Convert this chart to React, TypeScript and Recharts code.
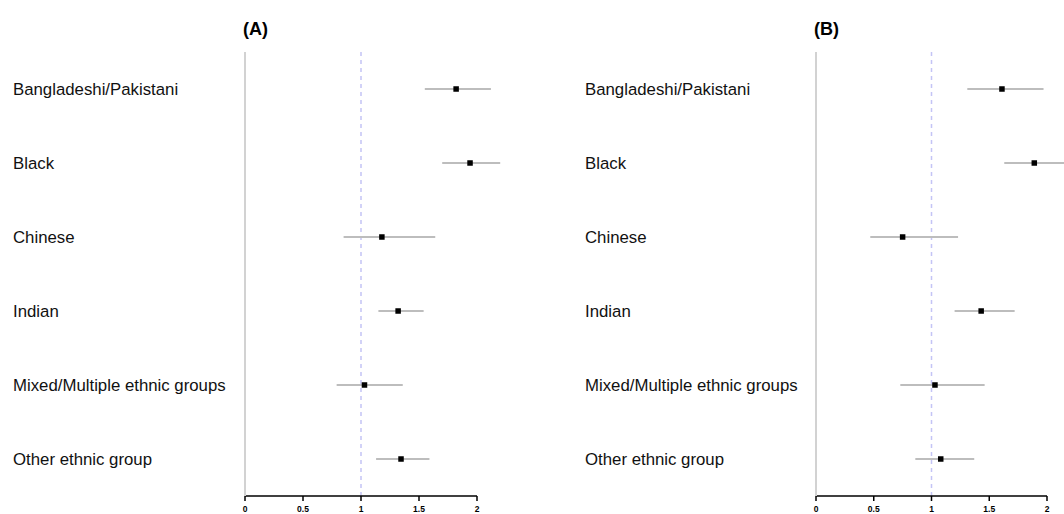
import { ScatterChart, Scatter, XAxis, YAxis, ReferenceLine } from "recharts";

const groups = [
  "Bangladeshi/Pakistani",
  "Black",
  "Chinese",
  "Indian",
  "Mixed/Multiple ethnic groups",
  "Other ethnic group",
];

// panel A: odds ratios and 95% CI
const orA = [1.82, 1.94, 1.18, 1.32, 1.03, 1.345];
const lowA = [1.55, 1.7, 0.85, 1.15, 0.79, 1.13];
const highA = [2.12, 2.2, 1.64, 1.54, 1.36, 1.59];

// panel B: odds ratios and 95% CI
const orB = [1.61, 1.89, 0.75, 1.43, 1.03, 1.08];
const lowB = [1.31, 1.63, 0.47, 1.2, 0.73, 0.86];
const highB = [1.97, 2.22, 1.23, 1.72, 1.46, 1.37];

const xTicks = [0, 0.5, 1, 1.5, 2];

const FONT = '"Liberation Sans", Arial, Helvetica, sans-serif';

const Square = (props: any) => (
  <rect x={props.cx - 2.75} y={props.cy - 2.75} width={5.5} height={5.5} fill="#000" />
);

function ForestPanel({
  title,
  or,
  low,
  high,
  width,
  axisWidth,
  labelX,
  rightPad,
}: {
  title: string;
  or: number[];
  low: number[];
  high: number[];
  width: number;
  axisWidth: number;
  labelX: number;
  rightPad: number;
}) {
  const rows = groups.map((g, i) => ({ group: g, or: or[i], low: low[i], high: high[i] }));

  const GroupTick = (props: any) => (
    <text
      x={labelX}
      y={props.y}
      dy="0.35em"
      textAnchor="start"
      fontSize={16.8}
      fontFamily={FONT}
      fill="#111"
    >
      {props.payload.value}
    </text>
  );

  return (
    <div style={{ position: "relative", width, height: 514 }}>
      <div
        style={{
          position: "absolute",
          left: axisWidth - 2,
          top: 20,
          fontSize: 18,
          lineHeight: "18px",
          fontWeight: "bold",
          fontFamily: FONT,
          color: "#000",
        }}
      >
        {title}
      </div>
      <ScatterChart
        width={width}
        height={514}
        margin={{ top: 52, right: rightPad, bottom: 0, left: 0 }}
      >
        <XAxis
          type="number"
          dataKey="or"
          domain={[0, 2]}
          ticks={xTicks}
          allowDataOverflow
          height={18}
          tickSize={5}
          tickMargin={5}
          axisLine={{ stroke: "#000", strokeWidth: 1.5 }}
          tickLine={{ stroke: "#000", strokeWidth: 1.5 }}
          tick={{ fontSize: 8.5, fontWeight: "bold", fill: "#000", fontFamily: FONT }}
        />
        <YAxis
          type="category"
          dataKey="group"
          reversed
          width={axisWidth}
          axisLine={{ stroke: "#d2d2d2", strokeWidth: 2 }}
          tickLine={false}
          tick={GroupTick}
        />
        <ReferenceLine
          x={1}
          stroke="#c4c4f5"
          strokeWidth={1.5}
          strokeDasharray="4 4"
          ifOverflow="visible"
        />
        {rows.map((r) => (
          <ReferenceLine
            key={r.group}
            segment={[
              { x: r.low, y: r.group },
              { x: r.high, y: r.group },
            ]}
            stroke="#bdbdbd"
            strokeWidth={2}
            ifOverflow="visible"
          />
        ))}
        <Scatter data={rows} shape={Square} isAnimationActive={false} />
      </ScatterChart>
    </div>
  );
}

export default function App() {
  return (
    <div
      style={{
        position: "absolute",
        left: 0,
        top: 0,
        width: 1064,
        height: 514,
        display: "flex",
        background: "#fff",
        overflow: "hidden",
      }}
    >
      <ForestPanel
        title="(A)"
        or={orA}
        low={lowA}
        high={highA}
        width={532}
        axisWidth={245}
        labelX={13}
        rightPad={55}
      />
      <ForestPanel
        title="(B)"
        or={orB}
        low={lowB}
        high={highB}
        width={532}
        axisWidth={284}
        labelX={53}
        rightPad={17}
      />
    </div>
  );
}
